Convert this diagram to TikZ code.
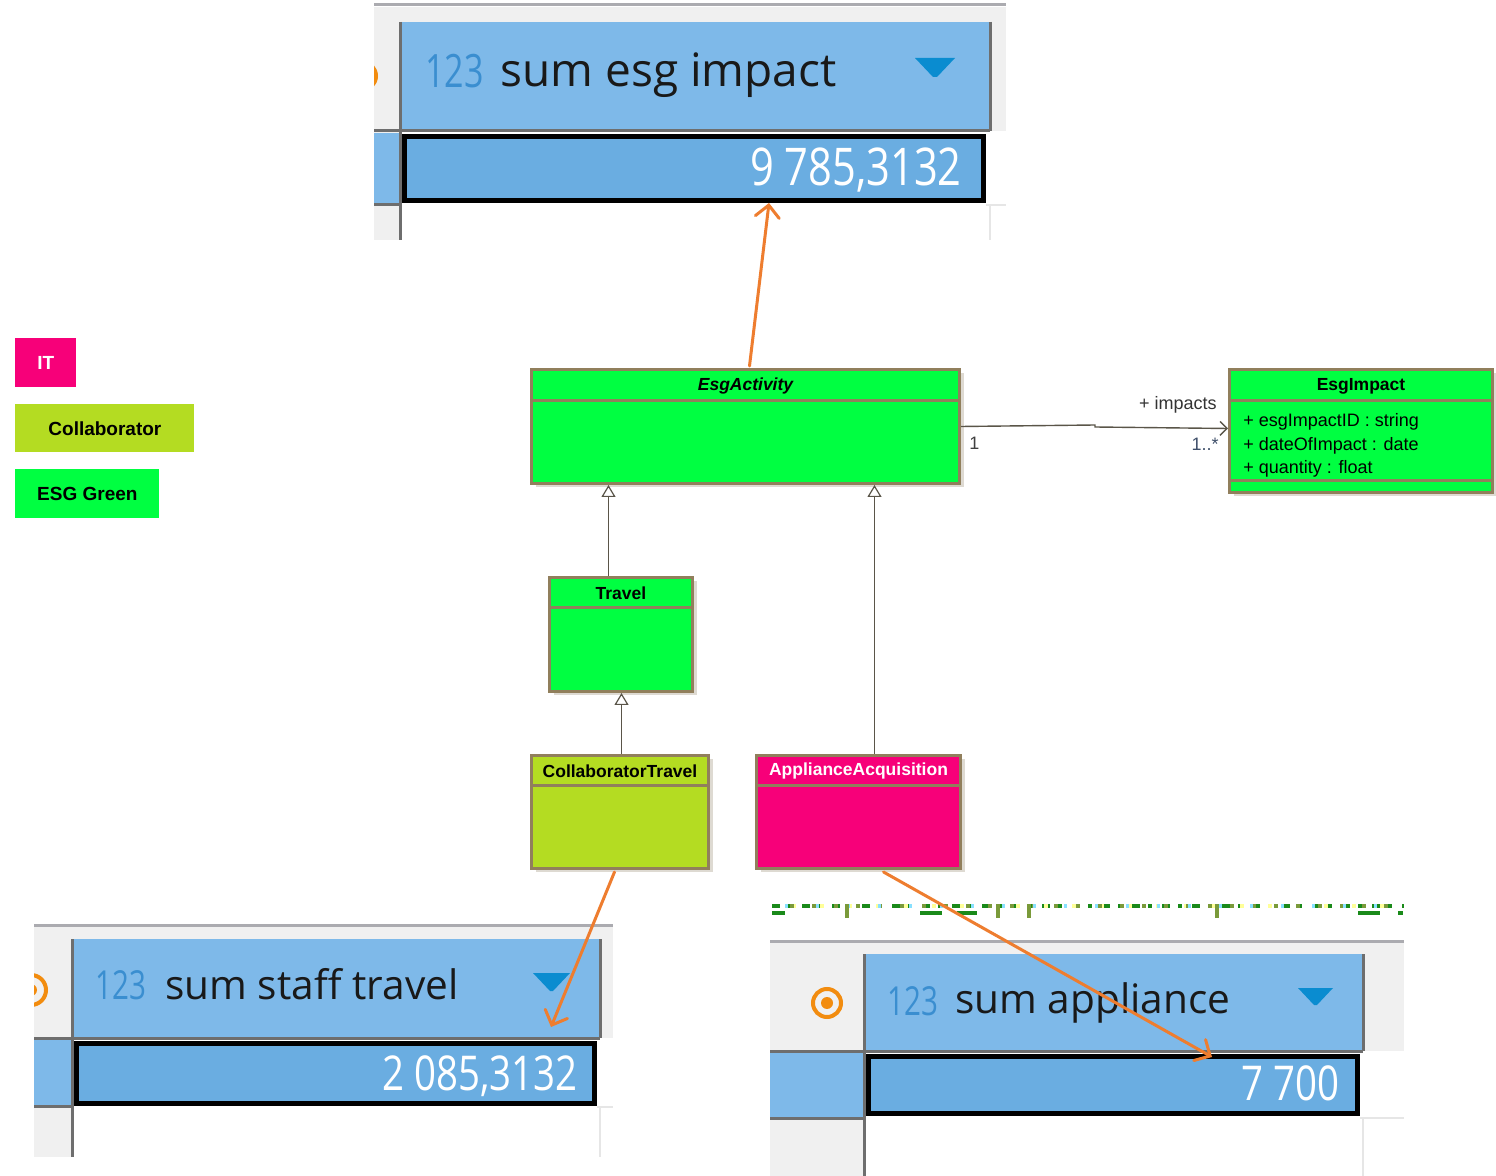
\documentclass[tikz,border=0pt]{standalone}
\usepackage{fontspec}
\setmainfont{Liberation Sans}
\newfontfamily\uifont{Open Sans}
\newfontfamily\numfont[FakeStretch=0.74]{Open Sans}
\newfontfamily\valfont[FakeStretch=0.8]{Open Sans}
\newfontfamily\umlfont{Liberation Sans}
\usetikzlibrary{arrows.meta,shadows}

\definecolor{panelbg}{HTML}{F0F0F0}
\definecolor{panelrule}{HTML}{ABABB0}
\definecolor{gridline}{HTML}{6E6E6E}
\definecolor{gridlight}{HTML}{E6E6E6}
\definecolor{hdrblue}{HTML}{7EB9E9}
\definecolor{valblue}{HTML}{6AADE1}
\definecolor{numblue}{HTML}{3A8ED0}
\definecolor{triblue}{HTML}{0A8CD0}
\definecolor{iconorange}{HTML}{F28C0F}
\definecolor{linkorange}{HTML}{EE7D2F}
\definecolor{esggreen}{HTML}{00FF41}
\definecolor{collabgreen}{HTML}{B4DC22}
\definecolor{itpink}{HTML}{F70079}
\definecolor{umlborder}{HTML}{917F5C}
\definecolor{umlshadow}{HTML}{DEDAD2}
\definecolor{umlline}{HTML}{5A5549}
\definecolor{multblue}{HTML}{3F4F6A}
\definecolor{txtgreen}{HTML}{1A8A1A}
\definecolor{txtolive}{HTML}{7A9A3A}
\definecolor{txtyellow}{HTML}{FFFF99}
\definecolor{txtcyan}{HTML}{88E0FF}

\tikzset{
  umlbox/.style={draw=umlborder, line width=1.5pt, inner sep=0pt, anchor=north west,
    drop shadow={shadow xshift=2pt, shadow yshift=-2pt, fill=umlshadow, opacity=1}},
  umldiv/.style={draw=umlborder, line width=1.5pt},
  umltitle/.style={font=\umlfont\bfseries\fontsize{8.75}{10}\selectfont, inner sep=0pt},
  umlattr/.style={font=\umlfont\fontsize{9}{10}\selectfont, inner sep=0pt, anchor=base west},
  assoclabel/.style={font=\umlfont\fontsize{9}{10}\selectfont, inner sep=0pt},
  generalize/.style={draw=umlline, line width=0.6pt, -{Triangle[open, length=6pt, width=7pt, fill=white]}},
  assoc/.style={draw=umlline, line width=0.7pt, -{Straight Barb[length=3.5pt, width=7pt]}},
  link/.style={draw=linkorange, line width=1.5pt, line cap=round,
    -{Straight Barb[length=6pt, width=12pt, line cap=round]}},
  legendbox/.style={inner sep=0pt, anchor=north west, font=\bfseries\fontsize{9.5}{11}\selectfont},
  grid/.style={draw=gridline, line width=1.5pt},
  gridfaint/.style={draw=gridlight, line width=1pt},
  valbox/.style={draw=black, line width=2.5pt, fill=valblue, inner sep=0pt},
  hdrbig/.style={font=\uifont\fontsize{23}{26}\selectfont, text=black!90, inner sep=0pt, anchor=base west},
  hdrsmall/.style={font=\uifont\fontsize{20.3}{24}\selectfont, text=black!90, inner sep=0pt, anchor=base west},
  idbig/.style={font=\numfont\fontsize{23}{26}\selectfont, text=numblue, inner sep=0pt, anchor=base west},
  idsmall/.style={font=\numfont\fontsize{20}{24}\selectfont, text=numblue, inner sep=0pt, anchor=base west},
  valbig/.style={font=\valfont\fontsize{26}{30}\selectfont, text=white, inner sep=0pt, anchor=base east},
  valsmall/.style={font=\valfont\fontsize{24}{28}\selectfont, text=white, inner sep=0pt, anchor=base east},
}

\begin{document}
\begin{tikzpicture}[x=0.5pt, y=-0.5pt]
\useasboundingbox[fill=white] (0,0) rectangle (1496,1176);

% ---------- result panel: sum esg impact ----------
\fill[panelbg] (374,7) rectangle (1006,240);
\draw[panelrule, line width=1.5pt] (374,5) -- (1006,5);
\fill[white] (400,131) rectangle (1006,240);
\fill[hdrblue] (400,22) rectangle (990,130);
\fill[hdrblue] (374,133) rectangle (400,204);
\begin{scope}
  \clip (374,40) rectangle (400,110);
  \draw[iconorange, line width=2pt] (362,76) circle[radius=7pt];
\end{scope}
\draw[gridfaint] (986,205) -- (1006,205);
\draw[gridfaint] (990,205) -- (990,240);
\draw[grid] (400,22) -- (400,240);
\draw[grid] (990,22) -- (990,131);
\draw[grid] (374,131) -- (990,131);
\draw[grid] (374,205) -- (402,205);
\node[valbox, minimum width=289.5pt, minimum height=32pt] (p1-val) at (694,168.5) {};
\node[idbig] (p1-id) at (425,88) {123};
\node[hdrbig] (p1-title) at (500,87) {sum esg impact};
\fill[triblue] (915,58) -- (955,58) -- (937,77) -- (933,77) -- cycle;
\node[valbig] (p1-num) at (962,186) {9 785,3132};

% ---------- result panel: sum staff travel ----------
\fill[panelbg] (34,927) rectangle (613,1157);
\draw[panelrule, line width=1.5pt] (34,925) -- (613,925);
\fill[white] (72,1038) rectangle (613,1157);
\fill[hdrblue] (72,939) rectangle (600,1037);
\fill[hdrblue] (34,1040) rectangle (72,1105);
\begin{scope}
  \clip (34,960) rectangle (70,1020);
  \draw[iconorange, line width=2pt] (31,990) circle[radius=7.5pt];
  \fill[iconorange] (31,990) circle[radius=3pt];
\end{scope}
\draw[gridfaint] (597,1107) -- (613,1107);
\draw[gridfaint] (600,1107) -- (600,1157);
\draw[grid] (72,939) -- (72,1157);
\draw[grid] (600,939) -- (600,1038);
\draw[grid] (34,1038) -- (600,1038);
\draw[grid] (34,1106) -- (74,1106);
\node[valbox, minimum width=259pt, minimum height=30pt] (p2-val) at (335.5,1073.5) {};
\node[idsmall] (p2-id) at (95,1000) {123};
\node[hdrsmall] (p2-title) at (165,999) {sum staff travel};
\fill[triblue] (533,973) -- (570,973) -- (553,991) -- (550,991) -- cycle;
\node[valsmall] (p2-num) at (578,1090) {2 085,3132};

% ---------- result panel: sum appliance ----------
\draw[txtgreen, line width=2pt, dash pattern=on 4pt off 4pt on 2pt off 5pt] (772,906) -- (1404,906);
\draw[txtyellow, line width=2pt, dash pattern=on 2pt off 12pt, dash phase=4pt] (772,906) -- (1404,906);
\draw[txtolive, line width=2pt, dash pattern=on 2pt off 9pt, dash phase=2pt] (772,906) -- (1404,906);
\draw[txtcyan, line width=2pt, dash pattern=on 1.5pt off 14pt, dash phase=9pt] (772,906) -- (1404,906);
\draw[txtgreen, line width=2pt] (772,913) -- (785,913) (920,913) -- (942,913) (957,913) -- (977,913)
  (1358,913) -- (1380,913) (1398,913) -- (1403,913);
\draw[txtolive, line width=2pt] (847,904) -- (847,918) (998,904) -- (998,918) (1029,904) -- (1029,918)
  (1217,904) -- (1217,918);
\fill[panelbg] (770,943) rectangle (1404,1176);
\draw[panelrule, line width=1.5pt] (770,941) -- (1404,941);
\fill[white] (864,1051) rectangle (1404,1176);
\fill[hdrblue] (864,954) rectangle (1363,1050);
\fill[hdrblue] (770,1053) rectangle (864,1117);
\draw[iconorange, line width=2pt] (827,1003) circle[radius=7pt];
\fill[iconorange] (827,1003) circle[radius=3pt];
\draw[gridfaint] (1360,1118) -- (1404,1118);
\draw[gridfaint] (1363,1118) -- (1363,1176);
\draw[grid] (864,954) -- (864,1176);
\draw[grid] (1363,954) -- (1363,1051);
\draw[grid] (770,1051) -- (1363,1051);
\draw[grid] (770,1118) -- (866,1118);
\node[valbox, minimum width=244.5pt, minimum height=28.5pt] (p3-val) at (1113,1085) {};
\node[idsmall] (p3-id) at (887,1015) {123};
\node[hdrsmall] (p3-title) at (955,1013) {sum appliance};
\fill[triblue] (1298,988) -- (1333,988) -- (1317,1005) -- (1314,1005) -- cycle;
\node[valsmall] (p3-num) at (1340,1100) {7 700};

% ---------- legend ----------
\node[legendbox, fill=itpink, text=white, minimum width=30.5pt, minimum height=24.5pt] (lg-it) at (15,338) {IT};
\node[legendbox, fill=collabgreen, minimum width=89.5pt, minimum height=24pt] (lg-collab) at (15,404) {Collaborator};
\node[legendbox, fill=esggreen, minimum width=72pt, minimum height=24.5pt] (lg-esg) at (15,469) {ESG Green};

% ---------- class diagram ----------
\node[umlbox, fill=esggreen, minimum width=214pt, minimum height=57pt] (act) at (530,368) {};
\draw[umldiv] ([yshift=-16.5pt]act.north west) -- ([yshift=-16.5pt]act.north east);
\node[umltitle, font=\umlfont\bfseries\itshape\fontsize{8.75}{10}\selectfont] (act-name) at ([yshift=-9pt]act.north) {EsgActivity};

\node[umlbox, fill=esggreen, minimum width=131.5pt, minimum height=61.5pt] (imp) at (1228,368) {};
\draw[umldiv] ([yshift=-16.5pt]imp.north west) -- ([yshift=-16.5pt]imp.north east);
\draw[umldiv] ([yshift=-56.5pt]imp.north west) -- ([yshift=-56.5pt]imp.north east);
\node[umltitle] (imp-name) at ([yshift=-9pt]imp.north) {EsgImpact};
\node[umlattr] (imp-a1) at (1243,427) {+ esgImpactID : string};
\node[umlattr] (imp-a2) at (1243,451) {+ dateOfImpact : date};
\node[umlattr] (imp-a3) at (1243,474) {+ quantity : float};

\node[umlbox, fill=esggreen, minimum width=71.5pt, minimum height=57pt] (travel) at (548,576) {};
\draw[umldiv] ([yshift=-16pt]travel.north west) -- ([yshift=-16pt]travel.north east);
\node[umltitle] (travel-name) at ([yshift=-8.5pt]travel.north) {Travel};

\node[umlbox, fill=collabgreen, minimum width=88.5pt, minimum height=56.5pt] (collab) at (530,754) {};
\draw[umldiv] ([yshift=-16pt]collab.north west) -- ([yshift=-16pt]collab.north east);
\node[umltitle] (collab-name) at ([yshift=-8.5pt]collab.north) {CollaboratorTravel};

\node[umlbox, fill=itpink, minimum width=102pt, minimum height=56.5pt] (appl) at (755,754) {};
\draw[umldiv] ([yshift=-16pt]appl.north west) -- ([yshift=-16pt]appl.north east);
\node[umltitle, text=white] (appl-name) at ([yshift=-8.5pt]appl.north) {ApplianceAcquisition};

% generalizations
\draw[generalize] ([xshift=-6.25pt]travel.north) -- ([xshift=-6.25pt]travel.north |- act.south);
\draw[generalize] ([xshift=0.75pt]collab.north) -- ([xshift=0.75pt]collab.north |- travel.south);
\draw[generalize] ([xshift=8pt]appl.north) -- ([xshift=8pt]appl.north |- act.south);

% association
\draw[assoc] (act.east) -- (1095,425) -- (1095,427) -- ([yshift=1.25pt]imp.west);
\node[assoclabel, anchor=base west, text=black!75] (end-act) at (969,450) {1};
\node[assoclabel, anchor=base east, text=black!80] (role) at (1217,410) {+ impacts};
\node[assoclabel, anchor=base east, text=multblue] (end-imp) at (1219,451) {1..*};

% traces to the result panels
\coordinate (p2-hit) at (551,1027);
\draw[link] ([xshift=2pt, yshift=1pt]act.north) -- ([xshift=37.5pt]p1-val.south);
\draw[link] ([xshift=-2.75pt, yshift=-1pt]collab.south) -- (p2-hit);
\draw[link] ([xshift=12.5pt, yshift=-1pt]appl.south) -- ([xshift=49.5pt, yshift=-1.5pt]p3-val.north);
\end{tikzpicture}
\end{document}
